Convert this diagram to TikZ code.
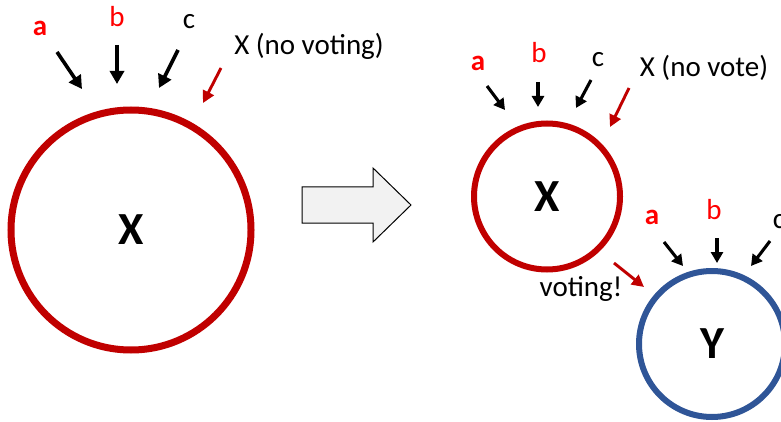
\documentclass[tikz,border=0pt]{standalone}
\usepackage{fontspec}
\setmainfont{Carlito}
\usetikzlibrary{arrows.meta}
\definecolor{xred}{HTML}{C00000}
\definecolor{lblred}{HTML}{FF0000}
\definecolor{yblue}{HTML}{2F5597}
\definecolor{blockfill}{HTML}{F2F2F2}
\tikzset{
  lbl/.style={inner sep=0pt, font=\fontsize{29}{34}\selectfont},
  lblr/.style={lbl, text=lblred},
  lblrb/.style={lbl, text=lblred, font=\fontsize{29}{34}\selectfont\bfseries},
  ring/.style={circle, inner sep=0pt, font=\fontsize{46}{50}\selectfont\bfseries},
  bigarr/.style={line width=3.6pt, -{Triangle[length=13pt,width=14pt]}},
  smallarr/.style={line width=3.1pt, -{Triangle[length=11pt,width=12pt]}},
  redarr/.style={draw=xred, line width=2.9pt, -{Triangle[length=12pt,width=12pt]}, xred},
}
\begin{document}
\begin{tikzpicture}[x=1pt,y=-1pt]
\useasboundingbox (0,0) rectangle (781,422);
% left
\node[ring, draw=xred, line width=7pt, minimum size=240pt] (X1) at (131,230) {X};
\node[lblrb] (a1) at (40,28) {a};
\node[lblr] (b1) at (117,16.5) {b};
\node[lbl] (c1) at (189,21.5) {c};
\node[lbl] (n1) at (309,46) {X (no voting)};
\coordinate (a1s) at (57,52);  \coordinate (a1e) at (82,89);
\coordinate (b1s) at (117,45); \coordinate (b1e) at (117,84);
\coordinate (c1s) at (178,50); \coordinate (c1e) at (159,88);
\coordinate (n1s) at (221,68); \coordinate (n1e) at (203,103);
\draw[bigarr] (a1s) -- (a1e);
\draw[bigarr] (b1s) -- (b1e);
\draw[bigarr] (c1s) -- (c1e);
\draw[redarr] (n1s) -- (n1e);
% block arrow
\draw[fill=blockfill, line width=1pt, line join=miter]
  (302,187) -- (373,187) -- (373,168) -- (411,205) -- (373,242) -- (373,223) -- (302,223) -- cycle;
% right X
\node[ring, draw=xred, line width=6pt, minimum size=146pt] (X2) at (547,196.5) {X};
\node[lblrb] (a2) at (478,63) {a};
\node[lblr] (b2) at (539,53) {b};
\node[lbl] (c2) at (598,59.5) {c};
\node[lbl] (n2) at (704,68) {X (no vote)};
\coordinate (a2s) at (487,86);  \coordinate (a2e) at (505,110);
\coordinate (b2s) at (538,82);  \coordinate (b2e) at (538,107);
\coordinate (c2s) at (591,80);  \coordinate (c2e) at (576,108);
\coordinate (n2s) at (629,88);  \coordinate (n2e) at (610,127);
\draw[smallarr] (a2s) -- (a2e);
\draw[smallarr] (b2s) -- (b2e);
\draw[smallarr] (c2s) -- (c2e);
\draw[redarr] (n2s) -- (n2e);
% Y
\node[ring, draw=yblue, line width=6pt, minimum size=146pt] (Y) at (712,344) {Y};
\node[lblrb] (a3) at (652,217) {a};
\node[lblr] (b3) at (714,210) {b};
\node[lbl] (c3) at (779,221.5) {c};
\node[lbl] (v) at (581,289) {voting!};
\coordinate (a3s) at (664,242); \coordinate (a3e) at (683,266);
\coordinate (b3s) at (717,238); \coordinate (b3e) at (717,263);
\coordinate (c3s) at (770,241); \coordinate (c3e) at (751,266);
\coordinate (vs) at (614,263);  \coordinate (ve) at (644,287);
\draw[smallarr] (a3s) -- (a3e);
\draw[smallarr] (b3s) -- (b3e);
\draw[smallarr] (c3s) -- (c3e);
\draw[redarr] (vs) -- (ve);
\end{tikzpicture}
\end{document}
